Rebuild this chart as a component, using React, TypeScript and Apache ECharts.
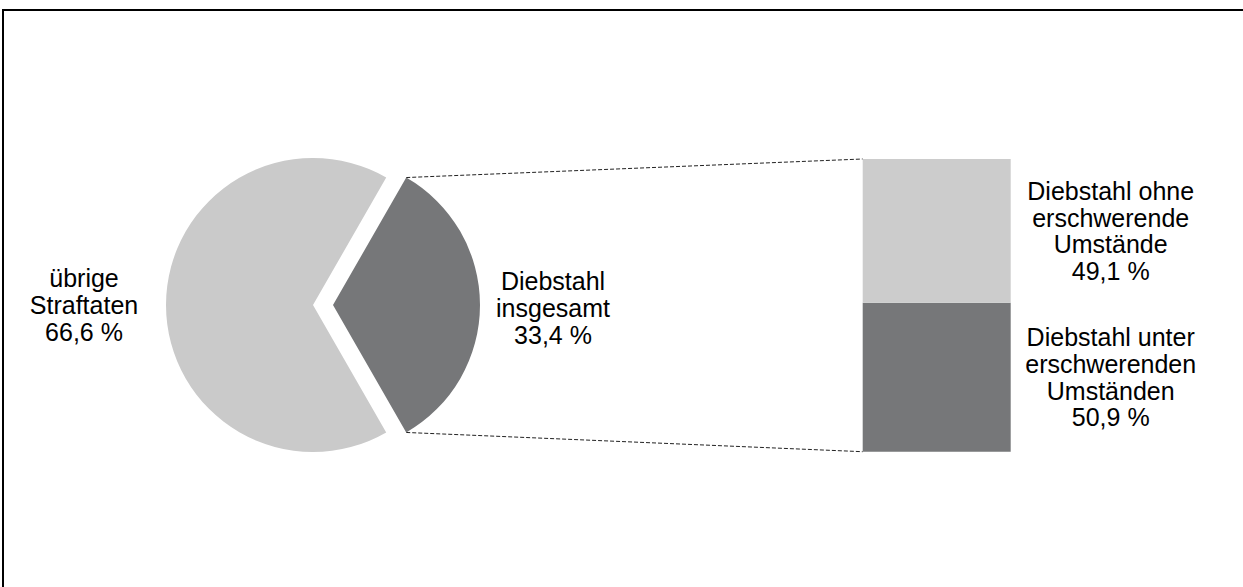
import React, { useEffect, useRef } from "react";
import * as echarts from "echarts";

// ---- data ----
const pieNames: string[] = ["Diebstahl\ninsgesamt", "übrige\nStraftaten"];
const pieValues: number[] = [33.4, 66.6];
const pieColors: string[] = ["#767779", "#cacaca"];

const barCategories: string[] = ["Diebstahl"];
const barNames: string[] = [
  "Diebstahl unter\nerschwerenden\nUmständen",
  "Diebstahl ohne\nerschwerende\nUmstände",
];
const barValues: number[] = [50.9, 49.1];
const barColors: string[] = ["#767779", "#cccccc"];

const fmt = (v: number) => v.toFixed(1).replace(".", ",") + " %";

// ---- layout ----
const FONT = "'Liberation Sans', Arial, sans-serif";
const FS = 25;
const LH = 26.7;
const PIE_CX = 313;
const PIE_CY = 305;
const PIE_R = 147;
const OFFSET = 20;

export default function App() {
  const ref = useRef<HTMLDivElement>(null);
  useEffect(() => {
    if (!ref.current) return;
    const chart = echarts.init(ref.current, null, { renderer: "svg" });
    const total = pieValues.reduce((a, b) => a + b, 0);
    const share = pieValues[0] / total;
    const halfDeg = share * 180;

    const option: any = {
      animation: false,
      backgroundColor: "#ffffff",
      grid: { left: 862.7, top: 159, width: 148, height: 292.7 },
      xAxis: { type: "category", data: barCategories, show: false },
      yAxis: { type: "value", min: 0, max: 100, show: false },
      series: [
        {
          type: "pie",
          center: [PIE_CX, PIE_CY],
          radius: PIE_R,
          startAngle: halfDeg,
          clockwise: true,
          selectedMode: "single",
          selectedOffset: OFFSET,
          label: { show: false },
          labelLine: { show: false },
          emphasis: { disabled: true },
          data: pieValues.map((v, i) => ({
            value: v,
            name: pieNames[i],
            selected: i === 0,
            itemStyle: { color: pieColors[i], borderWidth: 0 },
            select: { itemStyle: { color: pieColors[i], borderWidth: 0 } },
          })),
        },
        ...barValues.map((v, i) => ({
          type: "bar",
          stack: "total",
          barWidth: "100%",
          barCategoryGap: 0,
          name: barNames[i],
          data: [v],
          itemStyle: { color: barColors[i] },
          emphasis: { disabled: true },
          label: {
            show: true,
            position: [248, "50%"],
            align: "center",
            verticalAlign: "middle",
            fontFamily: FONT,
            fontSize: FS,
            lineHeight: LH,
            color: "#000",
            formatter: () => barNames[i] + "\n" + fmt(v),
          },
        })),
      ],
    };
    chart.setOption(option);

    // connecting lines computed from pie geometry and bar axis pixels
    const a = (halfDeg * Math.PI) / 180;
    const sx = PIE_CX + OFFSET + PIE_R * Math.cos(a);
    const syTop = PIE_CY - PIE_R * Math.sin(a);
    const syBot = PIE_CY + PIE_R * Math.sin(a);
    const topPx = chart.convertToPixel({ gridIndex: 0 }, [0, 100]) as number[];
    const botPx = chart.convertToPixel({ gridIndex: 0 }, [0, 0]) as number[];
    const barLeft = topPx[0] - 74;

    const labelStyle = (text: string) => ({
      text,
      fill: "#000",
      font: `${FS}px ${FONT}`,
      fontSize: FS,
      fontFamily: FONT,
      lineHeight: LH,
      align: "center",
      verticalAlign: "middle",
    });

    chart.setOption({
      graphic: [
        {
          type: "rect",
          silent: true,
          shape: { x: 3, y: 10, width: 1400, height: 800 },
          style: { fill: "none", stroke: "#000", lineWidth: 2 },
        },
        {
          type: "line",
          silent: true,
          shape: { x1: sx, y1: syTop, x2: barLeft, y2: topPx[1] },
          style: { stroke: "#222", lineWidth: 1, lineDash: [4, 2] },
        },
        {
          type: "line",
          silent: true,
          shape: { x1: sx, y1: syBot, x2: barLeft, y2: botPx[1] },
          style: { stroke: "#222", lineWidth: 1, lineDash: [4, 2] },
        },
        {
          type: "text",
          silent: true,
          x: PIE_CX - PIE_R - 82,
          y: PIE_CY,
          style: labelStyle(pieNames[1] + "\n" + fmt(pieValues[1])),
        },
        {
          type: "text",
          silent: true,
          x: PIE_CX + OFFSET + PIE_R + 73,
          y: PIE_CY + 3,
          style: labelStyle(pieNames[0] + "\n" + fmt(pieValues[0])),
        },
      ],
    });

    return () => chart.dispose();
  }, []);

  return (
    <div
      ref={ref}
      style={{ position: "absolute", left: 0, top: 0, width: 1243, height: 587 }}
    />
  );
}
